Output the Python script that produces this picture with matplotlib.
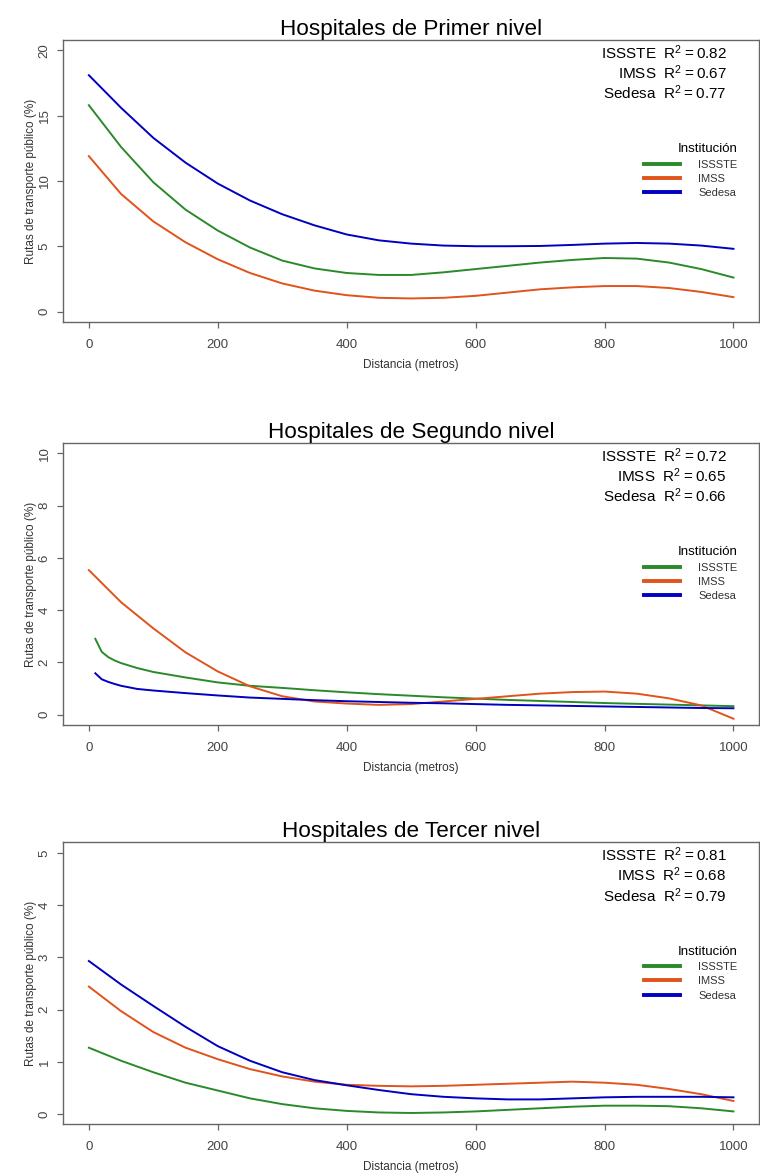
import matplotlib
matplotlib.use("Agg")
import matplotlib.pyplot as plt

plt.rcParams["font.family"] = ["Liberation Sans", "DejaVu Sans"]

# ---- data ----
institutions = ["ISSSTE", "IMSS", "Sedesa"]
colors = ["#2a8a2a", "#e0531a", "#0000c0"]
titles = ["Hospitales de Primer nivel",
          "Hospitales de Segundo nivel",
          "Hospitales de Tercer nivel"]
r2_values = [["0.82", "0.67", "0.77"],
             ["0.72", "0.65", "0.66"],
             ["0.81", "0.68", "0.79"]]
y_ticks = [[0, 5, 10, 15, 20], [0, 2, 4, 6, 8, 10], [0, 1, 2, 3, 4, 5]]

dist = [0, 50, 100, 150, 200, 250, 300, 350, 400, 450, 500,
        550, 600, 650, 700, 750, 800, 850, 900, 950, 1000]
dist_late = [10, 20, 30, 40, 50, 75, 100, 150, 200, 250, 300, 350, 400, 450, 500,
             550, 600, 650, 700, 750, 800, 850, 900, 950, 1000]

# Primer nivel
p1_issste = [15.8, 12.6, 9.9, 7.8, 6.2, 4.9, 3.9, 3.3, 2.95, 2.8, 2.8,
             3.0, 3.25, 3.5, 3.75, 3.95, 4.1, 4.05, 3.75, 3.25, 2.6]
p1_imss = [11.9, 9.0, 6.9, 5.3, 4.0, 2.95, 2.15, 1.6, 1.25, 1.05, 1.0,
           1.05, 1.2, 1.45, 1.7, 1.85, 1.95, 1.95, 1.8, 1.5, 1.1]
p1_sedesa = [18.1, 15.6, 13.3, 11.4, 9.8, 8.5, 7.45, 6.6, 5.9, 5.45, 5.2,
             5.05, 5.0, 5.0, 5.02, 5.1, 5.2, 5.25, 5.2, 5.05, 4.8]

# Segundo nivel
p2_issste = [2.9, 2.4, 2.2, 2.07, 1.97, 1.78, 1.63, 1.42, 1.23, 1.1, 1.02, 0.93, 0.85, 0.78, 0.72,
             0.66, 0.61, 0.56, 0.52, 0.48, 0.44, 0.41, 0.38, 0.35, 0.32]
p2_imss = [5.53, 4.3, 3.3, 2.38, 1.65, 1.08, 0.7, 0.5, 0.42, 0.37, 0.4,
           0.5, 0.6, 0.7, 0.8, 0.86, 0.88, 0.8, 0.62, 0.35, -0.16]
p2_sedesa = [1.58, 1.35, 1.25, 1.17, 1.1, 0.98, 0.92, 0.82, 0.73, 0.65, 0.6, 0.55, 0.51, 0.48, 0.45,
             0.43, 0.4, 0.37, 0.35, 0.33, 0.31, 0.29, 0.27, 0.25, 0.24]

# Tercer nivel
p3_issste = [1.27, 1.02, 0.8, 0.6, 0.45, 0.3, 0.19, 0.11, 0.06, 0.03, 0.02,
             0.03, 0.05, 0.08, 0.11, 0.14, 0.16, 0.16, 0.15, 0.11, 0.05]
p3_imss = [2.44, 1.97, 1.57, 1.27, 1.05, 0.86, 0.72, 0.62, 0.56, 0.54, 0.53,
           0.54, 0.56, 0.58, 0.6, 0.62, 0.6, 0.56, 0.48, 0.38, 0.25]
p3_sedesa = [2.93, 2.48, 2.07, 1.67, 1.3, 1.02, 0.8, 0.65, 0.55, 0.46, 0.38,
             0.33, 0.3, 0.28, 0.28, 0.3, 0.32, 0.33, 0.33, 0.33, 0.32]

panels = [
    [(dist, p1_issste), (dist, p1_imss), (dist, p1_sedesa)],
    [(dist_late, p2_issste), (dist, p2_imss), (dist_late, p2_sedesa)],
    [(dist, p3_issste), (dist, p3_imss), (dist, p3_sedesa)],
]

# ---- figure ----
fig = plt.figure(figsize=(7.6, 11.75), dpi=100)
axes_boxes = [(0.083, 0.726, 0.916, 0.240),
              (0.083, 0.383, 0.916, 0.240),
              (0.083, 0.043, 0.916, 0.240)]

for i, box in enumerate(axes_boxes):
    ax = fig.add_axes(box)
    handles = []
    for (xs, ys), name, c in zip(panels[i], institutions, colors):
        ln, = ax.plot(xs, ys, color=c, lw=1.4, label=name)
        handles.append(ln)

    top = y_ticks[i][-1]
    ax.set_xlim(-40, 1040)
    ax.set_ylim(-0.04 * top, 1.04 * top)
    ax.set_xticks([0, 200, 400, 600, 800, 1000])
    ax.set_yticks(y_ticks[i])
    ax.set_yticklabels([str(v) for v in y_ticks[i]], rotation=90, va="center")
    ax.tick_params(axis="both", direction="out", length=4, width=0.9,
                   colors="#666666", labelcolor="#444444", labelsize=9.5)
    ax.tick_params(axis="x", pad=8)
    ax.tick_params(axis="y", pad=5)
    for s in ax.spines.values():
        s.set_color("#666666")
        s.set_linewidth(1.0)

    ax.set_title(titles[i], fontsize=16.2, pad=3)
    ax.set_xlabel("Distancia (metros)", fontsize=8.5, color="#333333", labelpad=6)
    ax.set_ylabel("Rutas de transporte público (%)", fontsize=8.5, color="#333333", labelpad=1)

    for j, (name, r2) in enumerate(zip(institutions, r2_values[i])):
        ax.text(0.953, 0.955 - j * 0.071, f"{name}  " + r"$\mathregular{R^2 = " + r2 + "}$",
                transform=ax.transAxes, ha="right", va="center", fontsize=11)

    leg = ax.legend(handles=handles, title="Institución", loc="upper left",
                    bbox_to_anchor=(0.826, 0.653), frameon=False, fontsize=8,
                    title_fontsize=9.5, handlelength=3.3, handletextpad=1.6,
                    labelspacing=0.38, borderpad=0, alignment="right")
    for h in leg.get_lines():
        h.set_linewidth(2.8)
    for t in leg.get_texts():
        t.set_color("#333333")

fig.savefig("out.png", dpi=100)
